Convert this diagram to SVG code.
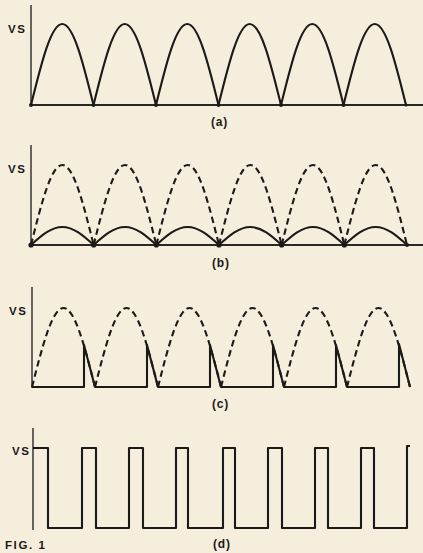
<svg xmlns="http://www.w3.org/2000/svg" xmlns:xlink="http://www.w3.org/1999/xlink" width="423" height="553" viewBox="0 0 423 553">
<style>
.ln{fill:none;stroke:#1c1a18;stroke-width:2.1;stroke-linejoin:round;stroke-linecap:butt}
.ax{fill:none;stroke:#2a2826;stroke-width:1.4}
.ds{fill:none;stroke:#1c1a18;stroke-width:2.1;stroke-dasharray:6.5 4}
.lb{font-family:"Liberation Sans",Arial,sans-serif;font-weight:bold;fill:#1c1a18}
.vs{font-size:11.5px;letter-spacing:1.6px}
.pl{font-size:12px;letter-spacing:0.8px}
.dot{fill:#1c1a18}
</style>
<defs>
<path id="archA" d="M0,0 C10.45,-42.53 20.06,-81 31.25,-81 C42.44,-81 52.05,-42.53 62.5,0"/>
<path id="archB" d="M0,0 C10.47,-42 20.11,-80 31.33,-80 C42.55,-80 52.19,-42 62.67,0"/>
<path id="archBs" d="M0,0 C10.47,-9.45 20.11,-18 31.33,-18 C42.55,-18 52.19,-9.45 62.67,0"/>
<path id="archC" d="M0,0 C10.53,-41.48 20.22,-79 31.5,-79 C42.78,-79 52.47,-41.48 63,0"/>
</defs>
<rect x="0" y="0" width="423" height="553" fill="#f6eedd"/>

<g id="panel-a">
<line class="ax" x1="31" y1="5" x2="31" y2="106"/>
<line class="ax" x1="31" y1="105" x2="423" y2="105" style="stroke-width:1.8"/>
<g class="ln">
<use xlink:href="#archA" x="31" y="105"/>
<use xlink:href="#archA" x="93.5" y="105"/>
<use xlink:href="#archA" x="156" y="105"/>
<use xlink:href="#archA" x="218.5" y="105"/>
<use xlink:href="#archA" x="281" y="105"/>
<use xlink:href="#archA" x="343.5" y="105"/>
</g>
<g class="dot">
<circle cx="31" cy="105" r="2"/><circle cx="93.5" cy="105" r="2"/><circle cx="156" cy="105" r="2"/><circle cx="218.5" cy="105" r="2"/><circle cx="281" cy="105" r="2"/><circle cx="343.5" cy="105" r="2"/><circle cx="406" cy="105" r="1.6"/>
</g>
<text class="lb vs" x="8" y="33">VS</text>
<text class="lb pl" x="211" y="126">(a)</text>
</g>

<g id="panel-b">
<line class="ax" x1="31" y1="145" x2="31" y2="246"/>
<line class="ax" x1="31" y1="245" x2="423" y2="245" style="stroke-width:1.8"/>
<g class="ds">
<use xlink:href="#archB" x="31" y="245"/>
<use xlink:href="#archB" x="93.67" y="245"/>
<use xlink:href="#archB" x="156.33" y="245"/>
<use xlink:href="#archB" x="219" y="245"/>
<use xlink:href="#archB" x="281.67" y="245"/>
<use xlink:href="#archB" x="344.33" y="245"/>
</g>
<g class="ln">
<use xlink:href="#archBs" x="31" y="245"/>
<use xlink:href="#archBs" x="93.67" y="245"/>
<use xlink:href="#archBs" x="156.33" y="245"/>
<use xlink:href="#archBs" x="219" y="245"/>
<use xlink:href="#archBs" x="281.67" y="245"/>
<use xlink:href="#archBs" x="344.33" y="245"/>
</g>
<g class="dot">
<circle cx="31" cy="245" r="2.6"/><circle cx="93.67" cy="245" r="2.6"/><circle cx="156.33" cy="245" r="2.6"/><circle cx="219" cy="245" r="2.6"/><circle cx="281.67" cy="245" r="2.6"/><circle cx="344.33" cy="245" r="2.6"/><circle cx="407" cy="245" r="2"/>
</g>
<text class="lb vs" x="8" y="173">VS</text>
<text class="lb pl" x="212" y="267">(b)</text>
</g>

<g id="panel-c">
<line class="ax" x1="32" y1="287" x2="32" y2="388"/>
<g class="ds">
<use xlink:href="#archC" x="32" y="387"/>
<use xlink:href="#archC" x="95" y="387"/>
<use xlink:href="#archC" x="158" y="387"/>
<use xlink:href="#archC" x="221" y="387"/>
<use xlink:href="#archC" x="284" y="387"/>
<use xlink:href="#archC" x="347" y="387"/>
</g>
<path class="ln" d="M32,387 H84 V345 L95,387 H147 V345 L158,387 H210 V345 L221,387 H273 V345 L284,387 H336 V345 L347,387 H399 V344 L410,387"/>
<text class="lb vs" x="9" y="315">VS</text>
<text class="lb pl" x="212" y="408">(c)</text>
</g>

<g id="panel-d">
<line class="ax" x1="33" y1="428" x2="33" y2="530"/>
<path class="ln" d="M33,448 H48 V528 H82 V448 H96 V528 H129 V448 H143 V528 H176 V448 H188 V528 H223 V448 H235 V528 H268 V448 H282 V528 H315 V448 H328 V528 H361 V448 H374 V528 H407 V446 H410"/>
<text class="lb vs" x="12" y="455">VS</text>
<text class="lb pl" x="213" y="548">(d)</text>
</g>

<text id="fig-label" class="lb" x="5" y="549" style="font-size:11.5px;letter-spacing:1.6px">FIG. 1</text>
</svg>
